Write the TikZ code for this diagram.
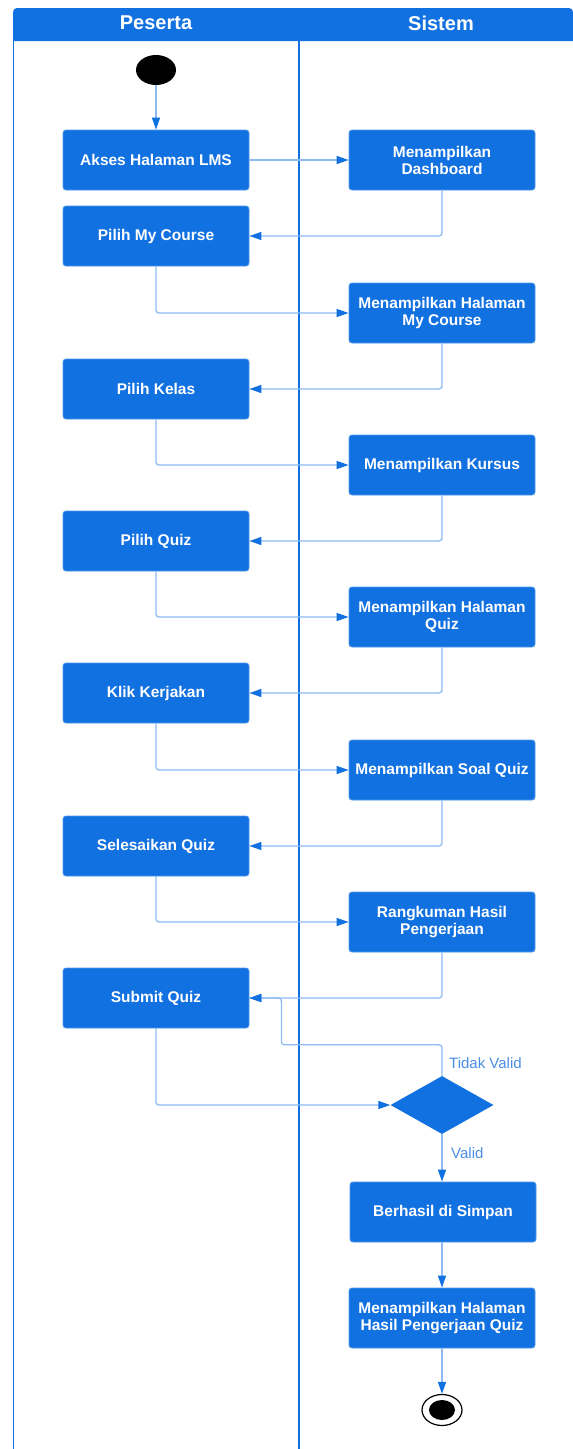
\documentclass[tikz,border=0pt]{standalone}
\usepackage{fontspec}
\setmainfont{Liberation Sans}
\usetikzlibrary{arrows.meta,shapes.geometric,calc}
\definecolor{laneblue}{HTML}{1271E1}
\definecolor{wireblue}{HTML}{8DBBF2}
\definecolor{labelblue}{HTML}{4A8DE6}

\begin{document}
\begin{tikzpicture}[x=1pt,y=-1pt,
  act/.style={rectangle,rounded corners=3pt,fill=laneblue,draw=laneblue!75!white,
    line width=0.8pt,minimum width=186pt,minimum height=60pt,inner sep=0pt,
    text=white,align=center,font=\bfseries\fontsize{15.5}{17}\selectfont},
  hdr/.style={text=white,font=\bfseries\fontsize{20}{22}\selectfont,inner sep=0pt},
  flow/.style={draw=wireblue,line width=1.3pt,rounded corners=3pt,
    -{Triangle[length=12pt,width=8pt,color=laneblue]}},
  lbl/.style={text=labelblue,font=\fontsize{15}{17}\selectfont,inner sep=0pt},
  lane/.style={draw=laneblue,line width=1.8pt}
]
\useasboundingbox (0,0) rectangle (573,1449);

% swimlane header and borders
\fill[laneblue,rounded corners=4pt] (13,41) -- (13,8) -- (573,8) [sharp corners] -- (573,41) -- cycle;
\draw[lane,line width=1.4pt] (13.5,41) -- (13.5,1449);
\draw[lane] (299,41) -- (299,1449);
\node[hdr] (hp) at (156,23) {Peserta};
\node[hdr] (hs) at (441,23) {Sistem};

% initial node
\node[ellipse,fill=black,minimum width=40pt,minimum height=30pt,inner sep=0pt] (start) at (156,70) {};

% Peserta activities
\node[act] (a1) at (156,160) {Akses Halaman LMS};
\node[act] (a2) at (156,236) {Pilih My Course};
\node[act] (a3) at (156,389) {Pilih Kelas};
\node[act] (a4) at (156,541) {Pilih Quiz};
\node[act] (a5) at (156,693) {Klik Kerjakan};
\node[act] (a6) at (156,846) {Selesaikan Quiz};
\node[act] (a7) at (156,998) {Submit Quiz};

% Sistem activities
\node[act] (s1) at (442,160) {Menampilkan\\Dashboard};
\node[act] (s2) at (442,313) {Menampilkan Halaman\\My Course};
\node[act] (s3) at (442,465) {Menampilkan Kursus};
\node[act] (s4) at (442,617) {Menampilkan Halaman\\Quiz};
\node[act] (s5) at (442,770) {Menampilkan Soal Quiz};
\node[act] (s6) at (442,922) {Rangkuman Hasil\\Pengerjaan};
\node[diamond,fill=laneblue,minimum width=103pt,minimum height=58pt,inner sep=0pt] (dec) at (442,1105) {};
\node[act] (s7) at (443,1212) {Berhasil di Simpan};
\node[act] (s8) at (442,1318) {Menampilkan Halaman\\Hasil Pengerjaan Quiz};

% final node
\node[ellipse,draw=black,line width=1.2pt,fill=white,minimum width=40pt,minimum height=31pt,inner sep=0pt] (end) at (442,1410) {};
\node[ellipse,fill=black,minimum width=26pt,minimum height=20pt,inner sep=0pt] (endin) at (end.center) {};

% control flow
\draw[flow] (start) -- (a1);
\draw[flow] (a1) -- (s1);
\draw[flow] (s1.south) |- (a2.east);
\draw[flow] (a2.south) |- (s2.west);
\draw[flow] (s2.south) |- (a3.east);
\draw[flow] (a3.south) |- (s3.west);
\draw[flow] (s3.south) |- (a4.east);
\draw[flow] (a4.south) |- (s4.west);
\draw[flow] (s4.south) |- (a5.east);
\draw[flow] (a5.south) |- (s5.west);
\draw[flow] (s5.south) |- (a6.east);
\draw[flow] (a6.south) |- (s6.west);
\draw[flow] (s6.south) |- (a7.east);
\draw[flow] (a7.south) |- (dec.west);
\draw[flow] (dec.north) -- ++(0,-31) -| ($(a7.east)+(32,0)$) -- (a7.east);
\draw[flow] (dec.south) -- (s7.north -| dec.south);
\draw[flow] (s7.south -| s8.north) -- (s8.north);
\draw[flow] (s8.south) -- (end.north);

% guard labels
\node[lbl,anchor=west] (tv) at (449,1063) {Tidak Valid};
\node[lbl,anchor=west] (va) at (451,1153) {Valid};
\end{tikzpicture}
\end{document}
